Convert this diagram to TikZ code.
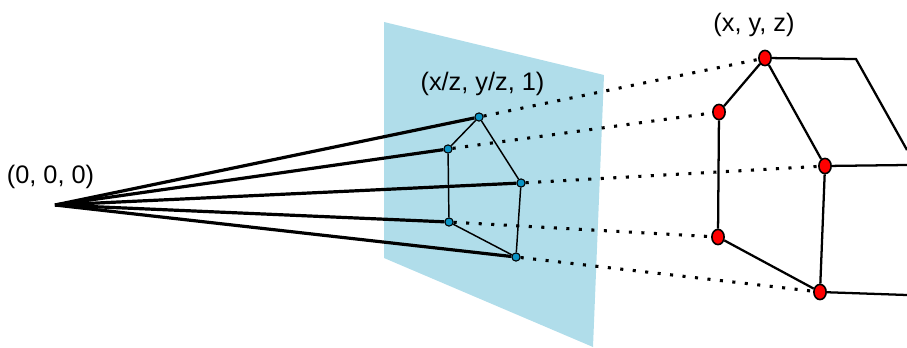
\documentclass[tikz,border=0pt]{standalone}
\usepackage{fontspec}
\setmainfont{Liberation Sans}
\usepackage{tikz}
\usetikzlibrary{shapes.geometric}

\definecolor{planeblue}{HTML}{B0DDEA}
\definecolor{imgblue}{HTML}{0A93C4}

\begin{document}
\begin{tikzpicture}[x=0.75pt, y=-0.75pt,
    imgpt/.style={draw, circle, fill=imgblue, line width=0.8pt, inner sep=0pt, minimum size=6.2pt},
    objpt/.style={draw, ellipse, fill=red, line width=1.2pt, inner sep=0pt, minimum width=9.2pt, minimum height=11.4pt},
    ray/.style={line width=2.4pt},
    dotline/.style={line width=2.3pt, dash pattern=on 2.3pt off 7.1pt},
    edgethin/.style={line width=1.1pt},
    edgethick/.style={line width=1.7pt},
    lbl/.style={font=\fontsize{19}{21}\selectfont, inner sep=0pt}]
    \useasboundingbox (0,0) rectangle (907,347);
    %plane
    \fill[planeblue] (384,22) -- (604,75) -- (593,347) -- (384,258) -- cycle;

    %\coordinate (name) at (x,y);
    \coordinate (eye) at (55,205);
    \coordinate (backtop) at (856,59);
    \coordinate (backend) at (907,150);
    \coordinate (midend) at (907,165);
    \coordinate (lowend) at (907,295);

    %image points
    \node (imgtop) [imgpt] at (479,117) {};
    \node (imgleft) [imgpt] at (448,149) {};
    \node (imgmid) [imgpt] at (521,183) {};
    \node (imglow) [imgpt] at (449,222) {};
    \node (imgbot) [imgpt] at (516,257) {};

    %object points
    \node (objtop) [objpt] at (765,58) {};
    \node (objleft) [objpt] at (719,112) {};
    \node (objmid) [objpt] at (825,166) {};
    \node (objlow) [objpt] at (718,237) {};
    \node (objbot) [objpt] at (820,292) {};

    %labels
    \node (lblzero) [lbl] at (50.5,177) {(0, 0, 0)};
    \node (lblimg) [lbl] at (482.5,84) {(x/z, y/z, 1)};
    \node (lblobj) [lbl] at (754,25) {(x, y, z)};

    %rays
    \draw[ray] (eye) -- (imgtop);
    \draw[ray] (eye) -- (imgleft);
    \draw[ray] (eye) -- (imgmid);
    \draw[ray] (eye) -- (imglow);
    \draw[ray] (eye) -- (imgbot);

    %dotted part
    \draw[dotline] (imgtop) -- (objtop);
    \draw[dotline] (imgleft) -- (objleft);
    \draw[dotline] (imgmid) -- (objmid);
    \draw[dotline] (imglow) -- (objlow);
    \draw[dotline] (imgbot) -- (objbot);

    %small house
    \draw[edgethin] (imgtop) -- (imgleft);
    \draw[edgethin] (imgleft) -- (imglow);
    \draw[edgethin] (imglow) -- (imgbot);
    \draw[edgethin] (imgbot) -- (imgmid);
    \draw[edgethin] (imgmid) -- (imgtop);

    %big house
    \draw[edgethick] (objtop) -- (objleft);
    \draw[edgethick] (objleft) -- (objlow);
    \draw[edgethick] (objlow) -- (objbot);
    \draw[edgethick] (objbot) -- (objmid);
    \draw[edgethick] (objmid) -- (objtop);
    \draw[edgethick] (objtop) -- (backtop) -- (backend);
    \draw[edgethick] (objmid) -- (midend);
    \draw[edgethick] (objbot) -- (lowend);
\end{tikzpicture}
\end{document}
